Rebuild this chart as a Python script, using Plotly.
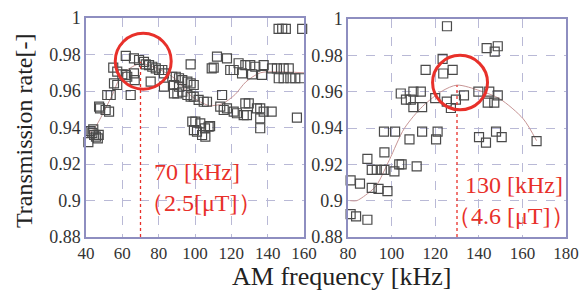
import plotly.graph_objects as go

# ---------------- data ----------------
left_freq = [41.3, 42.5, 43.5, 44.5, 45.5, 46.5, 47.0, 44.0, 47.2, 47.7, 50.8, 52.7, 51.7, 53.6,
             55.4, 57.2, 55.0, 57.2, 60.0, 61.9, 62.7, 66.4, 66.8, 64.6, 61.9, 66.4, 69.2, 71.9,
             72.9, 74.7, 76.5, 75.6, 78.4, 80.2, 82.0, 82.9, 82.9, 87.5, 89.4, 91.2, 93.0, 95.8,
             97.6, 88.4, 91.2, 93.0, 95.8, 97.6, 88.4, 90.3, 97.6, 98.5, 99.4, 99.3, 99.3, 102.0,
             104.8, 106.6, 100.2, 102.9, 107.5, 101.1, 103.9, 105.7, 112.1, 117.6, 110.3, 114.9,
             113.9, 115.8, 117.6, 121.3, 123.1, 126.8, 127.7, 129.6, 128.6, 134.1, 135.9, 137.8,
             142.2, 135.9, 135.9, 156.1, 119.4, 121.3, 124.0, 127.7, 130.4, 133.2, 137.8, 142.4,
             145.1, 148.8, 151.6, 125.9, 131.4, 136.9, 146.1, 148.8, 152.5, 155.2, 158.0, 146.0,
             148.0, 150.0, 159.0, 109.2, 105.5, 108.3]
left_rate = [0.932, 0.938, 0.937, 0.936, 0.935, 0.934, 0.936, 0.939, 0.9514, 0.9505, 0.9496, 0.9487,
             0.9578, 0.9578, 0.9642, 0.9633, 0.9728, 0.9706, 0.9691, 0.9688, 0.9678, 0.9697, 0.966,
             0.9578, 0.9793, 0.9779, 0.977, 0.976, 0.9746, 0.9742, 0.9733, 0.9651, 0.9724, 0.9715,
             0.9715, 0.9697, 0.9624, 0.9678, 0.9678, 0.967, 0.966, 0.9651, 0.9642, 0.9633, 0.9624,
             0.9596, 0.9578, 0.9569, 0.9587, 0.9587, 0.9746, 0.9432, 0.9386, 0.9633, 0.9569, 0.9551,
             0.9541, 0.9541, 0.9432, 0.9423, 0.9404, 0.9377, 0.9359, 0.935, 0.9788, 0.9779, 0.9728,
             0.9578, 0.9514, 0.9496, 0.9505, 0.9487, 0.9478, 0.9468, 0.9532, 0.9532, 0.9468, 0.9505,
             0.9505, 0.9487, 0.9487, 0.945, 0.9396, 0.9454, 0.9715, 0.9715, 0.9752, 0.9742, 0.9742,
             0.9733, 0.9742, 0.9724, 0.9724, 0.9724, 0.9724, 0.9697, 0.9691, 0.9688, 0.967, 0.967,
             0.967, 0.967, 0.967, 0.994, 0.994, 0.994, 0.994, 0.9724, 0.9395, 0.9408]

left_fit_freq = [42, 45, 50, 55, 58, 62, 70, 80, 90, 97, 103, 108, 115, 122, 128, 136, 145, 160]
left_fit_rate = [0.937, 0.940, 0.949, 0.959, 0.966, 0.971, 0.975, 0.972, 0.966, 0.958, 0.954,
                 0.952, 0.953, 0.958, 0.965, 0.970, 0.9705, 0.970]

right_freq = [125.4, 143.6, 148.7, 147.3, 123.4, 115.6, 123.7, 128.0, 104.2, 106.6, 108.8, 110.0,
              113.4, 110.0, 114.0, 120.0, 125.3, 127.2, 129.5, 133.2, 139.8, 144.8, 144.1, 147.1,
              148.7, 96.5, 101.6, 108.2, 114.0, 121.1, 120.4, 140.1, 143.3, 147.9, 150.5, 166.5,
              96.7, 88.9, 90.9, 93.2, 95.5, 96.7, 101.3, 103.5, 104.6, 111.5, 81.2, 85.5, 90.9,
              94.0, 98.1, 81.2, 83.7, 88.9]
right_rate = [0.996, 0.984, 0.985, 0.982, 0.978, 0.972, 0.970, 0.972, 0.959, 0.9556, 0.9556, 0.960,
              0.960, 0.9515, 0.9515, 0.9564, 0.9545, 0.951, 0.9556, 0.958, 0.960, 0.960, 0.954,
              0.954, 0.958, 0.938, 0.938, 0.9337, 0.938, 0.938, 0.9337, 0.935, 0.932, 0.938, 0.935,
              0.9328, 0.9266, 0.923, 0.917, 0.917, 0.917, 0.917, 0.9161, 0.920, 0.920, 0.9189,
              0.9112, 0.9094, 0.907, 0.9065, 0.9052, 0.8926, 0.8913, 0.8895]

right_fit_freq = [81, 84, 88, 92.8, 99, 105.8, 114.3, 123.4, 130, 140.6, 149.7, 160.4, 166.5]
right_fit_rate = [0.900, 0.900, 0.903, 0.908, 0.9225, 0.9397, 0.952, 0.9605, 0.9636, 0.9605,
                  0.956, 0.945, 0.933]

y_ticks = [0.88, 0.9, 0.92, 0.94, 0.96, 0.98, 1]
y_ticktext = ["0.88", "0.9", "0.92", "0.94", "0.96", "0.98", "1"]
left_xticks = [40, 60, 80, 100, 120, 140, 160]
right_xticks = [80, 100, 120, 140, 160, 180]

left_peak = 70
left_peak_rate = 0.976
right_peak = 130
right_peak_rate = 0.9636

# ---------------- style ----------------
SERIF = "Liberation Serif, Times New Roman, serif"
RED = "#e8302a"
MARK = "#4a4a4a"
FIT = "#c79595"
GRID = "#b9b9d6"
FRAME = "#8e8ec0"

fig = go.Figure()

fig.add_trace(go.Scatter(x=left_fit_freq, y=left_fit_rate, mode="lines",
                         line=dict(color=FIT, width=1, shape="spline", smoothing=0.8),
                         xaxis="x", yaxis="y", showlegend=False))
fig.add_trace(go.Scatter(x=left_freq, y=left_rate, mode="markers",
                         marker=dict(symbol="square-open", size=9, color=MARK, line=dict(width=1.2)),
                         xaxis="x", yaxis="y", showlegend=False, cliponaxis=False))
fig.add_trace(go.Scatter(x=right_fit_freq, y=right_fit_rate, mode="lines",
                         line=dict(color=FIT, width=1, shape="spline", smoothing=0.8),
                         xaxis="x2", yaxis="y2", showlegend=False))
fig.add_trace(go.Scatter(x=right_freq, y=right_rate, mode="markers",
                         marker=dict(symbol="square-open", size=9, color=MARK, line=dict(width=1.2)),
                         xaxis="x2", yaxis="y2", showlegend=False, cliponaxis=False))

axis_common = dict(showline=True, mirror=True, linecolor=FRAME, linewidth=1.5,
                   showgrid=True, gridcolor=GRID, griddash="dash", gridwidth=1,
                   zeroline=False, ticks="", automargin=False)
yfont = dict(family=SERIF, size=18, color="#333")
xfont = dict(family=SERIF, size=17, color="#333")

fig.update_layout(
    width=586, height=295,
    margin=dict(l=0, r=0, t=0, b=0, pad=0, autoexpand=False),
    paper_bgcolor="white", plot_bgcolor="white",
    xaxis=dict(domain=[86/586, 304/586], range=[40, 160], tickvals=left_xticks,
               anchor="y", tickfont=xfont, **axis_common),
    yaxis=dict(domain=[1-237/295, 1-18/295], range=[0.88, 1], tickvals=y_ticks,
               ticktext=y_ticktext, anchor="x", tickfont=yfont, **axis_common),
    xaxis2=dict(domain=[348/586, 566/586], range=[80, 180], tickvals=right_xticks,
                anchor="y2", tickfont=xfont, **axis_common),
    yaxis2=dict(domain=[1-237/295, 1-19/295], range=[0.88, 1], tickvals=y_ticks,
                ticktext=y_ticktext, anchor="x2", tickfont=yfont, **axis_common),
)

# peak markers: dotted verticals + circles
fig.add_shape(type="line", xref="x", yref="y", x0=left_peak, x1=left_peak, y0=0.88, y1=left_peak_rate,
              line=dict(color=RED, width=1.3, dash="dot"))
fig.add_shape(type="line", xref="x2", yref="y2", x0=right_peak, x1=right_peak, y0=0.88, y1=right_peak_rate,
              line=dict(color=RED, width=1.3, dash="dot"))
fig.add_shape(type="circle", xref="x", yref="y", x0=56.1, x1=86.9, y0=0.961, y1=0.9916,
              line=dict(color=RED, width=3))
fig.add_shape(type="circle", xref="x2", yref="y2", x0=118.8, x1=144.0, y0=0.950, y1=0.980,
              line=dict(color=RED, width=3))

ann_font = dict(family=SERIF, size=24, color=RED)
fig.add_annotation(xref="x", yref="y", x=76.3, y=0.9156, text="70 [kHz]", showarrow=False,
                   xanchor="left", yanchor="middle", font=ann_font)
fig.add_annotation(xref="x", yref="y", x=68.7, y=0.8986, text="（2.5[μT]）", showarrow=False,
                   xanchor="left", yanchor="middle", font=ann_font)
fig.add_annotation(xref="x2", yref="y2", x=132.8, y=0.9087, text="130 [kHz]", showarrow=False,
                   xanchor="left", yanchor="middle", font=ann_font)
fig.add_annotation(xref="x2", yref="y2", x=124.6, y=0.8913, text="（4.6 [μT]）", showarrow=False,
                   xanchor="left", yanchor="middle", font=ann_font)

# axis titles
fig.add_annotation(xref="paper", yref="paper", x=24/586, y=1-131/295, text="Transmission rate[-]",
                   textangle=-90, showarrow=False, xanchor="center", yanchor="middle",
                   font=dict(family=SERIF, size=24, color="#222"))
fig.add_annotation(xref="paper", yref="paper", x=341/586, y=1-276/295, text="AM frequency [kHz]",
                   showarrow=False, xanchor="center", yanchor="middle",
                   font=dict(family=SERIF, size=26, color="#222"))

fig.write_html("out.html", config={"displayModeBar": False},
               post_script="document.body.style.margin='0';document.body.style.overflow='hidden';")
